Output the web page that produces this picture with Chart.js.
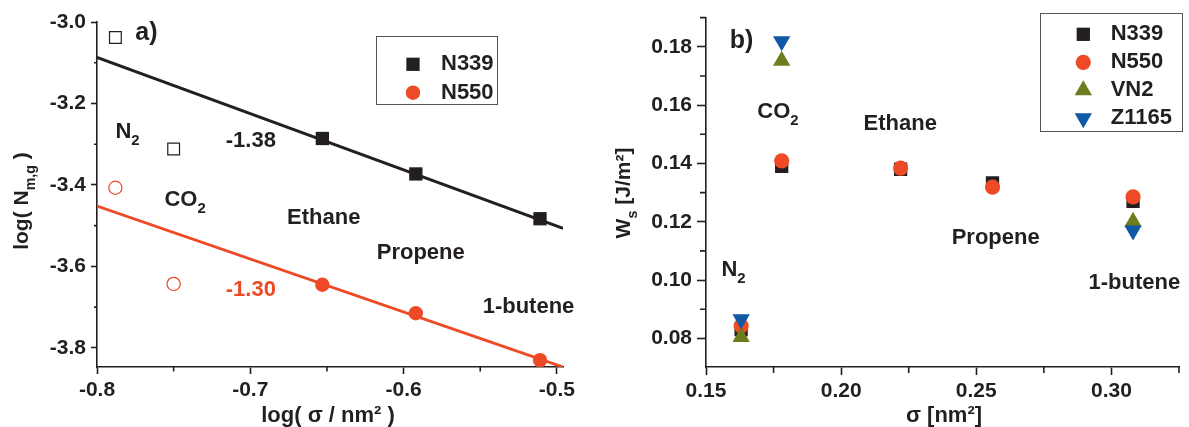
<!DOCTYPE html>
<html>
<head>
<meta charset="utf-8">
<script src="https://cdn.jsdelivr.net/npm/chart.js@4.4.1/dist/chart.umd.min.js"></script>
<style>
  html, body { margin: 0; padding: 0; background: #fff; }
  canvas { position: absolute; top: 0; }
  #panelA { left: 0; }
  #panelB { left: 595px; }
</style>
</head>
<body>
<canvas id="panelA" width="595" height="427"></canvas>
<canvas id="panelB" width="594" height="427"></canvas>
<script>
const INK = '#231f20';
const RED = '#ee4a26';
const OLIVE = '#6e7c1d';
const BLUE = '#1158a7';
const FAMILY = '"Liberation Sans", Arial, Helvetica, sans-serif';

// panel a) : log of monolayer capacity vs log of cross-section area
const logSigma = [-0.788, -0.750, -0.653, -0.592, -0.511]; // N2, CO2, ethane, propene, 1-butene
const logNmN339 = [-3.038, -3.312, -3.286, -3.373, -3.483];
const logNmN550 = [-3.407, -3.643, -3.645, -3.715, -3.830];
const fitSlope = [-1.38, -1.30];        // N339, N550 (hydrocarbons only)
const fitIntercept = [-4.191, -4.492];
const fitSpan = [-0.8, -0.496];
const aXTicks = [-0.8, -0.7, -0.6, -0.5];
const aXMinor = [-0.75, -0.65, -0.55];
const aYTicks = [-3.0, -3.2, -3.4, -3.6, -3.8];
const aYMinor = [-3.1, -3.3, -3.5, -3.7];

// panel b) : surface energy vs cross-section area
const sigma = [0.163, 0.178, 0.222, 0.256, 0.308];
const wsN339 = [0.083, 0.139, 0.138, 0.1333, 0.127];
const wsN550 = [0.0843, 0.1409, 0.1384, 0.1319, 0.1285];
const wsVN2 = [0.0805, 0.1752, null, null, 0.1200];
const wsZ1165 = [0.0866, 0.1819, null, null, 0.1170];
const bXTicks = [0.15, 0.20, 0.25, 0.30];
const bXMinor = [0.175, 0.225, 0.275, 0.325];
const bYTicks = [0.08, 0.10, 0.12, 0.14, 0.16, 0.18];
const bYMinor = [0.09, 0.11, 0.13, 0.15, 0.17, 0.19];

const font = size => `bold ${size}px ${FAMILY}`;
const pts = (xs, ys, idx) => idx.map(i => ({ x: xs[i], y: ys[i] })).filter(p => p.y !== null);

// text with optional subscript pieces: [[text, isSub], ...]
function richWidth(ctx, parts, size) {
  let w = 0;
  parts.forEach(([s, sub]) => { ctx.font = font(sub ? size * 0.68 : size); w += ctx.measureText(s).width; });
  return w;
}
function drawRich(ctx, parts, x, y, size, color, align) {
  ctx.fillStyle = color;
  ctx.textBaseline = 'middle';
  ctx.textAlign = 'left';
  let cx = align === 'center' ? x - richWidth(ctx, parts, size) / 2 : x;
  parts.forEach(([s, sub]) => {
    ctx.font = font(sub ? size * 0.68 : size);
    ctx.fillText(s, cx, sub ? y + size * 0.42 : y);
    cx += ctx.measureText(s).width;
  });
}

const decor = {
  id: 'decor',
  afterDatasetsDraw(chart, args, o) {
    const { ctx, chartArea: ca, scales: { x, y } } = chart;
    ctx.save();
    // minor ticks
    ctx.strokeStyle = INK;
    ctx.lineWidth = 1.6;
    ctx.beginPath();
    o.xMinor.forEach(v => {
      const px = x.getPixelForValue(v);
      ctx.moveTo(px, ca.bottom); ctx.lineTo(px, ca.bottom + o.xMinorLen);
    });
    o.yMinor.forEach(v => {
      const py = y.getPixelForValue(v);
      ctx.moveTo(ca.left, py); ctx.lineTo(ca.left - o.yMinorLen, py);
    });
    ctx.stroke();

    // labels inside the plot
    o.notes.forEach(n => drawRich(ctx, n.parts, x.getPixelForValue(n.x), y.getPixelForValue(n.y), n.size || 22, n.color || INK, 'left'));

    // axis titles
    drawRich(ctx, o.xTitle, o.xTitlePos[0], o.xTitlePos[1], 22, INK, 'center');
    ctx.save();
    ctx.translate(o.yTitlePos[0], o.yTitlePos[1]);
    ctx.rotate(-Math.PI / 2);
    drawRich(ctx, o.yTitle, 0, 0, 21, INK, 'center');
    ctx.restore();

    // legend box
    const L = o.legend;
    ctx.strokeStyle = '#555';
    ctx.lineWidth = 1;
    ctx.strokeRect(L.x + 0.5, L.y + 0.5, L.w, L.h);
    L.items.forEach((di, i) => {
      const ds = chart.data.datasets[di];
      const ry = L.firstRow + i * L.step;
      ctx.fillStyle = ds.pointBackgroundColor;
      Chart.helpers.drawPoint(ctx, {
        pointStyle: ds.pointStyle, radius: ds.pointRadius,
        rotation: ds.pointRotation || 0, borderWidth: 0
      }, L.markX, ry);
      drawRich(ctx, [[ds.label]], L.textX, ry, 22, INK, 'left');
    });
    ctx.restore();
  }
};

function axis(min, max, ticks, digits, tickLen, size, isX) {
  return {
    type: 'linear', min, max,
    afterBuildTicks: s => { s.ticks = ticks.map(v => ({ value: v })); },
    afterFit: s => { if (isX) s.height = size; else s.width = size; },
    grid: { display: true, drawOnChartArea: false, drawTicks: true, tickLength: tickLen, tickWidth: 1.6, tickColor: INK },
    border: { display: true, color: INK, width: 1.6 },
    ticks: {
      autoSkip: false, maxRotation: 0, padding: isX ? 4 : 5, color: INK,
      font: { family: FAMILY, size: 21, weight: 'bold' },
      callback: v => v.toFixed(digits)
    }
  };
}

const common = {
  responsive: false, animation: false, devicePixelRatio: 1, events: [],
};

const hydro = [2, 3, 4];
const gasPhase = [0, 1];

new Chart(document.getElementById('panelA'), {
  type: 'scatter',
  data: {
    datasets: [
      { label: 'N339', data: pts(logSigma, logNmN339, hydro), pointStyle: 'rect', pointRadius: 9.4,
        pointBackgroundColor: INK, pointBorderWidth: 0, order: 1 },
      { label: 'N550', data: pts(logSigma, logNmN550, hydro), pointStyle: 'circle', pointRadius: 7.2,
        pointBackgroundColor: RED, pointBorderWidth: 0, order: 1 },
      { label: 'N339 (N2, CO2)', data: pts(logSigma, logNmN339, gasPhase), pointStyle: 'rect', pointRadius: 8.3,
        pointBackgroundColor: '#fff', pointBorderColor: INK, pointBorderWidth: 1.2, order: 1 },
      { label: 'N550 (N2, CO2)', data: pts(logSigma, logNmN550, gasPhase), pointStyle: 'circle', pointRadius: 6.6,
        pointBackgroundColor: '#fff', pointBorderColor: RED, pointBorderWidth: 1.2, order: 1 },
      { label: 'fit N339', data: fitSpan.map(v => ({ x: v, y: fitIntercept[0] + fitSlope[0] * v })),
        showLine: true, borderColor: INK, borderWidth: 2.8, pointRadius: 0, order: 10 },
      { label: 'fit N550', data: fitSpan.map(v => ({ x: v, y: fitIntercept[1] + fitSlope[1] * v })),
        showLine: true, borderColor: RED, borderWidth: 2.8, pointRadius: 0, order: 10 }
    ]
  },
  options: {
    ...common,
    layout: { padding: { top: 22, right: 32, bottom: 0, left: 0 } },
    scales: {
      x: axis(fitSpan[0], fitSpan[1], aXTicks, 1, 7, 60, true),
      y: axis(-3.847, -3.0, aYTicks, 1, 6, 97, false)
    },
    plugins: {
      legend: { display: false }, tooltip: { enabled: false },
      decor: {
        xMinor: aXMinor, yMinor: aYMinor, xMinorLen: 4.5, yMinorLen: 3,
        notes: [
          { parts: [['a)']], x: -0.775, y: -3.027, size: 25 },
          { parts: [['N'], ['2', true]], x: -0.788, y: -3.27 },
          { parts: [['CO'], ['2', true]], x: -0.756, y: -3.437 },
          { parts: [[fitSlope[0].toFixed(2)]], x: -0.716, y: -3.292 },
          { parts: [[fitSlope[1].toFixed(2)]], x: -0.716, y: -3.659, color: RED },
          { parts: [['Ethane']], x: -0.676, y: -3.481 },
          { parts: [['Propene']], x: -0.6175, y: -3.567 },
          { parts: [['1-butene']], x: -0.5484, y: -3.700 }
        ],
        xTitle: [['log( σ / nm² )']], xTitlePos: [328, 416],
        yTitle: [['log( N'], ['m,g', true], [' )']], yTitlePos: [22, 201],
        legend: { x: 376, y: 36, w: 121, h: 68, markX: 413, textX: 441, firstRow: 64.3, step: 28.4, items: [0, 1] }
      }
    }
  },
  plugins: [decor]
});

const all = [0, 1, 2, 3, 4];

new Chart(document.getElementById('panelB'), {
  type: 'scatter',
  data: {
    datasets: [
      { label: 'N339', data: pts(sigma, wsN339, all), pointStyle: 'rect', pointRadius: 9.4,
        pointBackgroundColor: INK, pointBorderWidth: 0, order: 4 },
      { label: 'N550', data: pts(sigma, wsN550, all), pointStyle: 'circle', pointRadius: 7.6,
        pointBackgroundColor: RED, pointBorderWidth: 0, order: 3 },
      { label: 'VN2', data: pts(sigma, wsVN2, all), pointStyle: 'triangle', pointRadius: 10,
        pointBackgroundColor: OLIVE, pointBorderWidth: 0, order: 2 },
      { label: 'Z1165', data: pts(sigma, wsZ1165, all), pointStyle: 'triangle', pointRotation: 180, pointRadius: 10,
        pointBackgroundColor: BLUE, pointBorderWidth: 0, order: 1 }
    ]
  },
  options: {
    ...common,
    layout: { padding: { top: 13, right: 4, bottom: 0, left: 0 } },
    scales: {
      x: axis(0.15, 0.325, bXTicks, 2, 8, 60, true),
      y: axis(0.0702, 0.19, bYTicks, 2, 9, 111, false)
    },
    plugins: {
      legend: { display: false }, tooltip: { enabled: false },
      decor: {
        xMinor: bXMinor, yMinor: bYMinor, xMinorLen: 6, yMinorLen: 6,
        notes: [
          { parts: [['b)']], x: 0.1588, y: 0.1818, size: 25 },
          { parts: [['CO'], ['2', true]], x: 0.169, y: 0.1578 },
          { parts: [['Ethane']], x: 0.2083, y: 0.1534 },
          { parts: [['Propene']], x: 0.2409, y: 0.1144 },
          { parts: [['1-butene']], x: 0.2915, y: 0.0990 },
          { parts: [['N'], ['2', true]], x: 0.1557, y: 0.1035 }
        ],
        xTitle: [['σ [nm²]']], xTitlePos: [349, 416],
        yTitle: [['W'], ['s', true], [' [J/m²]']], yTitlePos: [29, 193],
        legend: { x: 445, y: 13, w: 142, h: 118, markX: 488.3, textX: 515.7, firstRow: 34.3, step: 28, items: [0, 1, 2, 3] }
      }
    }
  },
  plugins: [decor]
});
</script>
</body>
</html>
